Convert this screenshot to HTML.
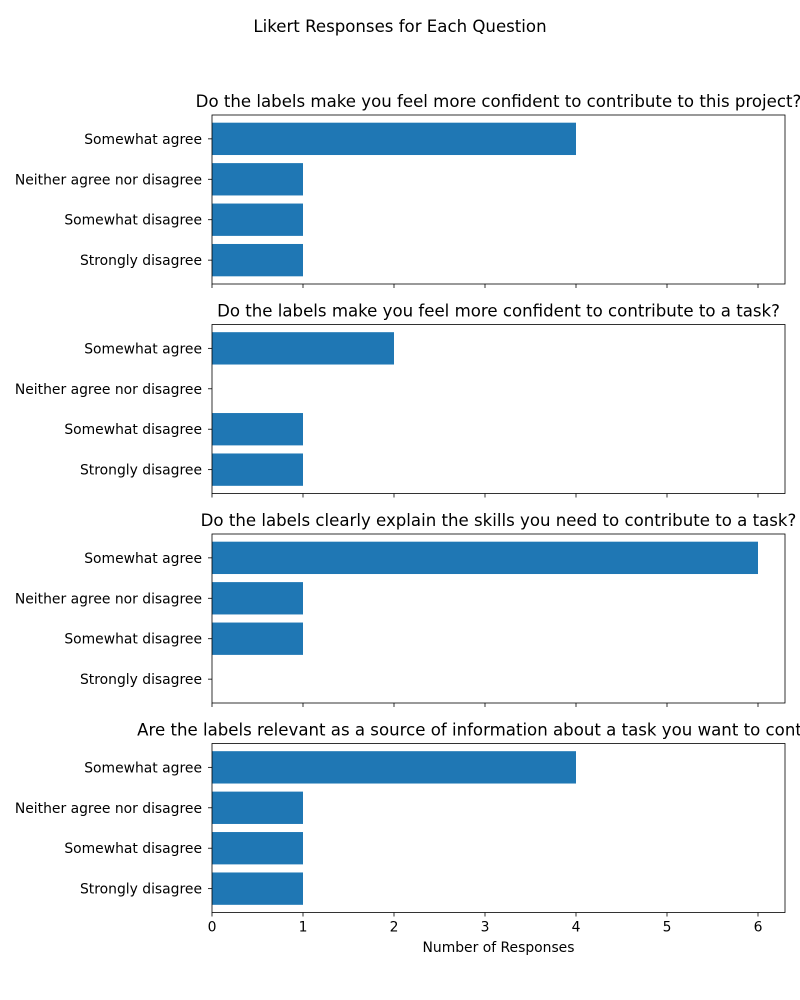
<!DOCTYPE html>
<html><head><meta charset="utf-8"><style>
body{margin:0;background:#fff}
svg{display:block;font-family:"DejaVu Sans","Liberation Sans",sans-serif}
</style></head><body>
<svg id="chart" width="800" height="1000"></svg>
<script>
const categories = ["Somewhat agree","Neither agree nor disagree","Somewhat disagree","Strongly disagree"];
const titles = [
 "Do the labels make you feel more confident to contribute to this project?",
 "Do the labels make you feel more confident to contribute to a task?",
 "Do the labels clearly explain the skills you need to contribute to a task?",
 "Are the labels relevant as a source of information about a task you want to contribute?"
];
const q1Values = [4,1,1,1];
const q2Values = [2,0,1,1];
const q3Values = [6,1,1,0];
const q4Values = [4,1,1,1];
const xTicks = [0,1,2,3,4,5,6];

const series = [q1Values,q2Values,q3Values,q4Values];
const svg = document.getElementById('chart');
const NS = "http://www.w3.org/2000/svg";
function mk(tag, attrs, parent){const e=document.createElementNS(NS,tag);for(const k in attrs)e.setAttribute(k,attrs[k]);(parent||svg).appendChild(e);return e;}
const L=212,R=785,xmax=(R-L)/91;
const tops=[115,324.5,534,743.5],H=169;
const xs=v=>L+v/xmax*(R-L);

const st=mk('text',{x:400,y:32,'text-anchor':'middle','font-size':16.6});
st.textContent="Likert Responses for Each Question";



series.forEach((vals,p)=>{
  const T=tops[p];
  const g=mk('g',{});
  
  
  const ymin=-0.59,ymax=3.59;
  const ys=i=>T+(i-ymin)/(ymax-ymin)*H;
  const bh=0.8/(ymax-ymin)*H;
  const t=mk('text',{x:(L+R)/2,y:T-8,'text-anchor':'middle','font-size':16.6},g);
  t.textContent=titles[p];
  
  
  vals.forEach((v,i)=>{
    if(v>0){const r=mk('rect',{x:xs(0),y:ys(i)-bh/2,width:xs(v)-xs(0),height:bh,fill:'#1f77b4'},g);
    
    }
    mk('line',{x1:L-4,x2:L,y1:ys(i),y2:ys(i),stroke:'#000','stroke-width':0.8},g);
    const lb=mk('text',{x:L-10,y:ys(i)+5,'text-anchor':'end','font-size':13.9},g);
    lb.textContent=categories[i];
    
    
  });
  const fr=mk('rect',{x:L,y:T,width:R-L,height:H,fill:'none',stroke:'#000','stroke-width':0.8},g);
  
  
  xTicks.forEach(v=>{
    mk('line',{x1:xs(v),x2:xs(v),y1:T+H,y2:T+H+4,stroke:'#000','stroke-width':0.8},g);
    if(p===3){const tl=mk('text',{x:xs(v),y:T+H+19,'text-anchor':'middle','font-size':13.9},g);
      tl.textContent=v;
      
      }
  });
});
const xl=mk('text',{x:(L+R)/2,y:952,'text-anchor':'middle','font-size':13.9});
xl.textContent="Number of Responses";


</script>
</body></html>
